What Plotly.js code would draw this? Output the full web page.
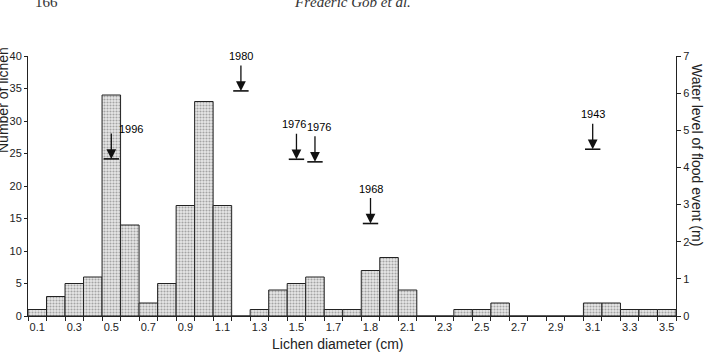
<!DOCTYPE html>
<html>
<head>
<meta charset="utf-8">
<script src="https://cdn.plot.ly/plotly-3.0.1.min.js"></script>
<style>html,body{margin:0;padding:0;background:#fff;}#chart{width:705px;height:352px;}</style>
</head>
<body>
<div id="chart"></div>
<script>
// ---- data ----
const diameters = [0.1,0.2,0.3,0.4,0.5,0.6,0.7,0.8,0.9,1.0,1.1,1.2,1.3,1.4,1.5,1.6,1.7,1.8,1.9,2.0,2.1,2.2,2.3,2.4,2.5,2.6,2.7,2.8,2.9,3.0,3.1,3.2,3.3,3.4,3.5];
const lichenCounts = [1,3,5,6,34,14,2,5,17,33,17,0,1,4,5,6,1,1,7,9,4,0,0,1,1,2,0,0,0,0,2,2,1,1,1];
const tickLabels = ["0.1","0.3","0.5","0.7","0.9","1.1","1.3","1.5","1.7","1.8","2.1","2.3","2.5","2.7","2.9","3.1","3.3","3.5"];
const floodYears = ["1996","1980","1976","1976","1968","1943"];
const floodDiameter = [0.5,1.2,1.5,1.6,1.9,3.1];
const floodLevel = [4.23,6.06,4.22,4.15,2.49,4.49];
const leftTicks = [0,5,10,15,20,25,30,35,40];
const rightTicks = [0,1,2,3,4,5,6,7];

// ---- derived positions ----
const binW = 0.1;
const edges = diameters.map(d => +(d - binW/2).toFixed(3)).concat([+(diameters[diameters.length-1] + binW/2).toFixed(3)]);
const labelPos = diameters.filter((d, i) => i % 2 === 0);
const xr = [edges[0], edges[edges.length-1]];

const FONT = 'Liberation Sans, Arial, sans-serif';
const tickFont = {family: FONT, size: 11, color: '#222'};

const traces = [
  {
    type: 'bar', x: diameters, y: lichenCounts, width: binW,
    marker: {
      color: '#e0e0e0',
      line: {color: '#222', width: 1},
      pattern: {shape: '.', fgcolor: '#a4a4a4', bgcolor: '#e8e8e8', size: 3, solidity: 0.4}
    },
    hoverinfo: 'skip', showlegend: false
  },
  {
    type: 'scatter', mode: 'markers', x: floodDiameter, y: floodLevel, yaxis: 'y2',
    marker: {symbol: 'line-ew', size: 11, line: {color: '#111', width: 1.6}},
    hoverinfo: 'skip', showlegend: false
  },
  {
    type: 'scatter', mode: 'markers', x: [labelPos[0]], y: [0], xaxis: 'x2',
    marker: {opacity: 0}, hoverinfo: 'skip', showlegend: false
  }
];

// label placement tweaks (pixels) relative to each arrow
const labelXShift = i => (i === 0 ? 20 : i === 2 ? -2 : i === 3 ? 4 : 0);
const labelYShift = i => (i === 0 ? 30 : 35);

const annotations = [];
floodYears.forEach((yr, i) => {
  annotations.push({
    x: floodDiameter[i], y: floodLevel[i], xref: 'x', yref: 'y2',
    text: '', showarrow: true, ax: 0, ay: -27,
    arrowhead: 2, arrowsize: 1.5, arrowwidth: 1.3, arrowcolor: '#111', standoff: 0
  });
  annotations.push({
    x: floodDiameter[i], y: floodLevel[i], xref: 'x', yref: 'y2',
    xanchor: 'center', yanchor: 'middle',
    text: yr, showarrow: false,
    xshift: labelXShift(i), yshift: labelYShift(i),
    font: {family: FONT, size: 11, color: '#000'}
  });
});
// axis titles
annotations.push({xref: 'paper', yref: 'paper', x: 0.5, y: 0, xanchor: 'center', yanchor: 'middle',
  yshift: -28, xshift: -14,
  text: 'Lichen diameter (cm)', showarrow: false, font: {family: FONT, size: 14, color: '#222'}});
annotations.push({xref: 'paper', yref: 'paper', x: 0, y: 1, xanchor: 'center', yanchor: 'middle',
  xshift: -25, yshift: -44, textangle: -90,
  text: 'Number of lichen', showarrow: false, font: {family: FONT, size: 14, color: '#222'}});
annotations.push({xref: 'paper', yref: 'paper', x: 1, y: 1, xanchor: 'center', yanchor: 'middle',
  xshift: 21, yshift: -99, textangle: 90,
  text: 'Water level of flood event (m)', showarrow: false, font: {family: FONT, size: 14, color: '#222'}});
// page header
annotations.push({xref: 'paper', yref: 'paper', x: 0, y: 1, xanchor: 'center', yanchor: 'middle',
  xshift: 18, yshift: 54,
  text: '166', showarrow: false, font: {family: 'Liberation Serif, serif', size: 15, color: '#333'}});
annotations.push({xref: 'paper', yref: 'paper', x: 0.5, y: 1, xanchor: 'center', yanchor: 'middle',
  xshift: 0, yshift: 54,
  text: '<i>Frédéric Gob et al.</i>', showarrow: false, font: {family: 'Liberation Serif, serif', size: 15, color: '#333'}});

const layout = {
  width: 705, height: 352,
  margin: {l: 28, r: 29, t: 56, b: 36},
  paper_bgcolor: '#fff', plot_bgcolor: '#fff',
  bargap: 0,
  xaxis: {
    range: xr, tickmode: 'array', tickvals: edges, ticks: 'outside', ticklen: 4, tickcolor: '#222',
    showticklabels: false, showline: true, linecolor: '#222', linewidth: 1, showgrid: false, zeroline: false,
    fixedrange: true
  },
  xaxis2: {
    overlaying: 'x', anchor: 'y', side: 'bottom', range: xr,
    tickmode: 'array', tickvals: labelPos, ticktext: tickLabels, ticks: '', ticklabelstandoff: 3,
    tickfont: tickFont, showline: false, showgrid: false, zeroline: false, fixedrange: true
  },
  yaxis: {
    range: [0, 40], tickmode: 'array', tickvals: leftTicks, ticks: 'outside', ticklen: 3, tickcolor: '#222',
    tickfont: tickFont, showline: true, linecolor: '#222', linewidth: 1, showgrid: false, zeroline: false,
    fixedrange: true
  },
  yaxis2: {
    overlaying: 'y', side: 'right', anchor: 'x', range: [0, 7], tickmode: 'array', tickvals: rightTicks,
    ticks: 'outside', ticklen: 4, tickcolor: '#222', tickfont: tickFont,
    showline: true, linecolor: '#222', linewidth: 1, showgrid: false, zeroline: false, fixedrange: true
  },
  annotations: annotations
};

Plotly.newPlot('chart', traces, layout, {displayModeBar: false, staticPlot: true});
</script>
</body>
</html>
